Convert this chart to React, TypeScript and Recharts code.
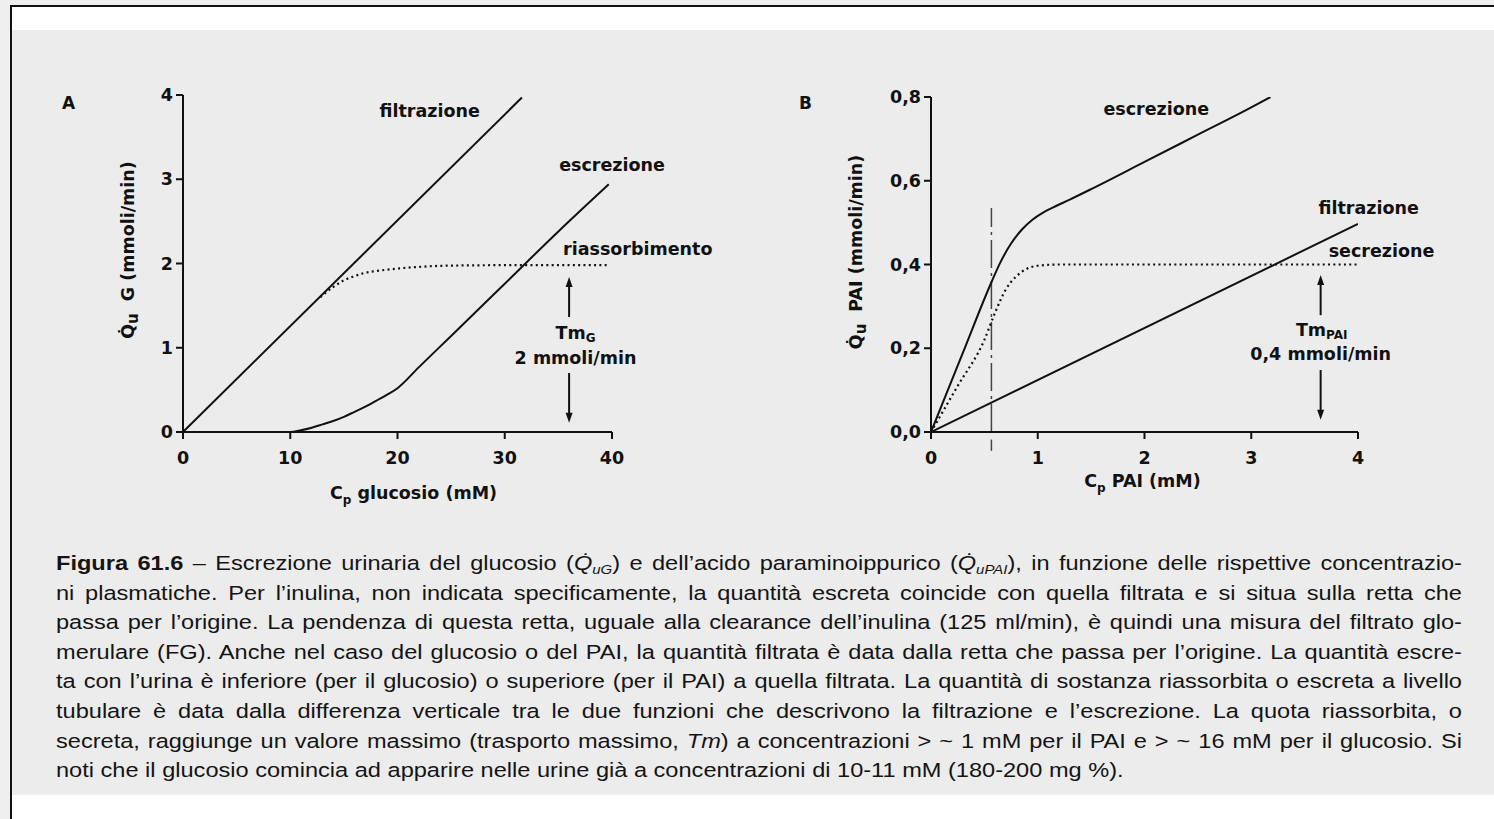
import React from 'react';
import { LineChart, Line, XAxis, YAxis, ReferenceLine, ReferenceDot } from 'recharts';

// Pannello A – glucosio (mM -> mmoli/min)
const glcXTicks = [0, 10, 20, 30, 40];
const glcYTicks = [0, 1, 2, 3, 4];
const glcFiltX = [0, 31.6];
const glcFiltY = [0, 3.97];
const glcExcrX = [0, 10, 11, 12, 13, 14, 15, 16, 17, 18, 19, 20, 22, 25, 30, 35, 39.7];
const glcExcrY = [0, 0, 0.02, 0.05, 0.09, 0.13, 0.18, 0.24, 0.3, 0.37, 0.44, 0.52, 0.77, 1.14, 1.76, 2.38, 2.94];
const glcReabsX = [12.8, 14, 15, 16, 17, 18, 20, 22, 25, 30, 39.6];
const glcReabsY = [1.6, 1.72, 1.8, 1.85, 1.89, 1.91, 1.94, 1.96, 1.975, 1.98, 1.98];

// Pannello B – PAI
const paiXTicks = [0, 1, 2, 3, 4];
const paiYTicks = [0, 0.2, 0.4, 0.6, 0.8];
const paiFiltX = [0, 4.0];
const paiFiltY = [0, 0.497];
const paiExcrX = [0, 0.3, 0.57, 0.65, 0.75, 0.85, 0.95, 1.05, 1.15, 1.3, 1.5, 2, 2.5, 3, 3.18];
const paiExcrY = [0, 0.19, 0.36, 0.405, 0.45, 0.483, 0.507, 0.524, 0.537, 0.555, 0.58, 0.645, 0.71, 0.775, 0.8];
const paiSecrX = [0, 0.25, 0.5, 0.6, 0.7, 0.8, 0.9, 1.0, 1.2, 2, 3, 4.0];
const paiSecrY = [0, 0.11, 0.22, 0.285, 0.34, 0.372, 0.39, 0.397, 0.4, 0.4, 0.4, 0.4];

const toPoints = (xs: number[], ys: number[]) => xs.map((x, i) => ({ x, y: ys[i] }));

const chartFont = '"DejaVu Sans", sans-serif';
const ink = '#111';
const tickStyle = { fill: ink, fontSize: 17.5, fontWeight: 700, fontFamily: chartFont };
const axisStroke = { stroke: ink, strokeWidth: 2 };

const Note = ({ cx, cy, text, sub }: any) => (
  <text x={cx} y={cy} textAnchor="middle" dominantBaseline="central"
    fontFamily={chartFont} fontWeight={700} fontSize={17.5} fill={ink}>
    {text}
    {sub && <tspan fontSize={12} dy={5}>{sub}</tspan>}
  </text>
);

const note = (text: string, sub?: string) => (p: any) => <Note cx={p.cx} cy={p.cy} text={text} sub={sub} />;

// freccia: testa sul secondo punto del segmento
const Arrow = (p: any) => {
  const { x1, y1, x2, y2 } = p;
  const dir = y2 < y1 ? -1 : 1;
  return (
    <g>
      <line x1={x1} y1={y1} x2={x2} y2={y2 - dir * 6} stroke={ink} strokeWidth={2} />
      <path d={`M${x2},${y2} L${x2 - 3.5},${y2 - dir * 10} L${x2 + 3.5},${y2 - dir * 10} Z`} fill={ink} />
    </g>
  );
};

const yLabel = (main: string, off: number) => (props: any) => {
  const vb = props.viewBox;
  const cx = vb.x + off;
  const cy = vb.y + 155;
  return (
    <text transform={`rotate(-90 ${cx} ${cy})`} x={cx} y={cy + 6} textAnchor="middle"
      fontFamily={chartFont} fontWeight={700} fontSize={17.5} fill={ink}>
      <tspan>{'Q\u0307'}</tspan>
      <tspan fontSize={15} dy={4}>u</tspan>
      <tspan dy={-4} dx={12}>{main}</tspan>
    </text>
  );
};

const xLabel = (main: string, dxOff: number, dyOff: number) => (props: any) => {
  const vb = props.viewBox;
  return (
    <text x={vb.x + vb.width / 2 + dxOff} y={vb.y + dyOff} textAnchor="middle"
      fontFamily={chartFont} fontWeight={700} fontSize={17.5} fill={ink}>
      C<tspan fontSize={12} dy={5}>p</tspan>
      <tspan dy={-5}>{' ' + main}</tspan>
    </text>
  );
};

function GlucosePanel() {
  return (
    <div style={{ position: 'absolute', left: 80, top: 50 }}>
      <LineChart width={640} height={480} margin={{ top: 45, right: 108, left: 0, bottom: 38 }}>
        <XAxis type="number" dataKey="x" domain={[0, 40]} ticks={glcXTicks} allowDataOverflow
          height={60} tick={tickStyle} tickSize={7} tickMargin={13}
          axisLine={axisStroke} tickLine={axisStroke}
          label={{ content: xLabel('glucosio (mM)', 16, 67) }} />
        <YAxis type="number" domain={[0, 4]} ticks={glcYTicks} allowDataOverflow
          width={103} tick={tickStyle} tickSize={7} tickMargin={3}
          axisLine={axisStroke} tickLine={axisStroke}
          label={{ content: yLabel('G (mmoli/min)', 48) }} />
        <Line data={toPoints(glcFiltX, glcFiltY)} dataKey="y" type="linear" stroke={ink} strokeWidth={2}
          dot={false} isAnimationActive={false} />
        <Line data={toPoints(glcExcrX, glcExcrY)} dataKey="y" type="monotone" stroke={ink} strokeWidth={2}
          dot={false} isAnimationActive={false} />
        <Line data={toPoints(glcReabsX, glcReabsY)} dataKey="y" type="monotone" stroke={ink} strokeWidth={2.2}
          strokeDasharray="2 3.3" dot={false} isAnimationActive={false} />
        <ReferenceDot x={23.0} y={3.81} r={0} ifOverflow="visible" shape={note('filtrazione')} />
        <ReferenceDot x={40.0} y={3.17} r={0} ifOverflow="visible" shape={note('escrezione')} />
        <ReferenceDot x={42.4} y={2.17} r={0} ifOverflow="visible" shape={note('riassorbimento')} />
        <ReferenceLine segment={[{ x: 36, y: 1.365 }, { x: 36, y: 1.84 }]} ifOverflow="visible" shape={Arrow} />
        <ReferenceDot x={36.6} y={1.18} r={0} ifOverflow="visible" shape={note('Tm', 'G')} />
        <ReferenceDot x={36.6} y={0.88} r={0} ifOverflow="visible" shape={note('2 mmoli/min')} />
        <ReferenceLine segment={[{ x: 36, y: 0.7 }, { x: 36, y: 0.11 }]} ifOverflow="visible" shape={Arrow} />
      </LineChart>
    </div>
  );
}

function PaiPanel() {
  const fmt = (v: number) => v.toFixed(1).replace('.', ',');
  return (
    <div style={{ position: 'absolute', left: 820, top: 50 }}>
      <LineChart width={640} height={480} margin={{ top: 47, right: 102, left: 0, bottom: 38 }}>
        <XAxis type="number" dataKey="x" domain={[0, 4]} ticks={paiXTicks} allowDataOverflow
          height={60} tick={tickStyle} tickSize={7} tickMargin={13}
          axisLine={axisStroke} tickLine={axisStroke}
          label={{ content: xLabel('PAI (mM)', -2, 55) }} />
        <YAxis type="number" domain={[0, 0.8]} ticks={paiYTicks} allowDataOverflow tickFormatter={fmt}
          width={111} tick={tickStyle} tickSize={7} tickMargin={3}
          axisLine={axisStroke} tickLine={axisStroke}
          label={{ content: yLabel('PAI (mmoli/min)', 36) }} />
        <ReferenceLine segment={[{ x: 0.566, y: 0 }, { x: 0.566, y: 0.535 }]} stroke="#444" strokeWidth={1.5}
          strokeDasharray="28 5 3 5" ifOverflow="visible" />
        <ReferenceLine segment={[{ x: 0.566, y: -0.018 }, { x: 0.566, y: -0.045 }]} stroke="#444" strokeWidth={1.5}
          ifOverflow="visible" />
        <Line data={toPoints(paiFiltX, paiFiltY)} dataKey="y" type="linear" stroke={ink} strokeWidth={2}
          dot={false} isAnimationActive={false} />
        <Line data={toPoints(paiExcrX, paiExcrY)} dataKey="y" type="monotone" stroke={ink} strokeWidth={2}
          dot={false} isAnimationActive={false} />
        <Line data={toPoints(paiSecrX, paiSecrY)} dataKey="y" type="monotone" stroke={ink} strokeWidth={2.2}
          strokeDasharray="2 3.3" dot={false} isAnimationActive={false} />
        <ReferenceDot x={2.11} y={0.771} r={0} ifOverflow="visible" shape={note('escrezione')} />
        <ReferenceDot x={4.1} y={0.535} r={0} ifOverflow="visible" shape={note('filtrazione')} />
        <ReferenceDot x={4.22} y={0.433} r={0} ifOverflow="visible" shape={note('secrezione')} />
        <ReferenceLine segment={[{ x: 3.65, y: 0.279 }, { x: 3.65, y: 0.375 }]} ifOverflow="visible" shape={Arrow} />
        <ReferenceDot x={3.66} y={0.244} r={0} ifOverflow="visible" shape={note('Tm', 'PAI')} />
        <ReferenceDot x={3.65} y={0.186} r={0} ifOverflow="visible" shape={note('0,4 mmoli/min')} />
        <ReferenceLine segment={[{ x: 3.65, y: 0.148 }, { x: 3.65, y: 0.029 }]} ifOverflow="visible" shape={Arrow} />
      </LineChart>
    </div>
  );
}

const Qdot = ({ sub }: { sub: string }) => (
  <span style={{ fontStyle: 'italic' }}>
    {'Q\u0307'}
    <span style={{ fontSize: 13, verticalAlign: -4, lineHeight: 0 }}>{sub}</span>
  </span>
);

const captionLines = [
  'ni plasmatiche. Per l’inulina, non indicata specificamente, la quantità escreta coincide con quella filtrata e si situa sulla retta che',
  'passa per l’origine. La pendenza di questa retta, uguale alla clearance dell’inulina (125 ml/min), è quindi una misura del filtrato glo-',
  'merulare (FG). Anche nel caso del glucosio o del PAI, la quantità filtrata è data dalla retta che passa per l’origine. La quantità escre-',
  'ta con l’urina è inferiore (per il glucosio) o superiore (per il PAI) a quella filtrata. La quantità di sostanza riassorbita o escreta a livello',
  'tubulare è data dalla differenza verticale tra le due funzioni che descrivono la filtrazione e l’escrezione. La quota riassorbita, o',
];

// la scansione è leggermente allargata in orizzontale
const stretch = 1.15;

function Caption() {
  const line: React.CSSProperties = { textAlign: 'justify', textAlignLast: 'justify', height: 29.6, wordSpacing: -2 };
  return (
    <div style={{
      position: 'absolute', left: 56, top: 548, width: 1406 / stretch, fontFamily: '"Liberation Sans", Arial, sans-serif',
      fontSize: 20.5, lineHeight: '29.6px', color: '#141414', transform: `scaleX(${stretch})`, transformOrigin: '0 0',
    }}>
      <div style={line}>
        <b>Figura 61.6</b> – Escrezione urinaria del glucosio (<Qdot sub="uG" />) e dell’acido paraminoippurico (<Qdot sub="uPAI" />), in funzione delle rispettive concentrazio-
      </div>
      {captionLines.map((t) => <div key={t} style={line}>{t}</div>)}
      <div style={line}>
        secreta, raggiunge un valore massimo (trasporto massimo, <i>Tm</i>) a concentrazioni &gt; ~ 1 mM per il PAI e &gt; ~ 16 mM per il glucosio. Si
      </div>
      <div style={{ height: 29.6 }}>
        noti che il glucosio comincia ad apparire nelle urine già a concentrazioni di 10-11 mM (180-200 mg %).
      </div>
    </div>
  );
}

export default function App() {
  const letter: React.CSSProperties = {
    position: 'absolute', top: 93, fontFamily: chartFont, fontWeight: 700, fontSize: 17, color: ink,
  };
  return (
    <div style={{ position: 'absolute', left: 0, top: 0, width: 1494, height: 819, background: '#efefef', overflow: 'hidden' }}>
      <div style={{ position: 'absolute', left: 10, top: 5, right: 0, bottom: 0, borderLeft: '2px solid #111', borderTop: '2px solid #111', background: '#fff' }} />
      <div style={{ position: 'absolute', left: 12, top: 30, width: 1482, height: 765, background: '#ececec' }} />
      <div style={{ ...letter, left: 62 }}>A</div>
      <div style={{ ...letter, left: 799 }}>B</div>
      <GlucosePanel />
      <PaiPanel />
      <Caption />
    </div>
  );
}
